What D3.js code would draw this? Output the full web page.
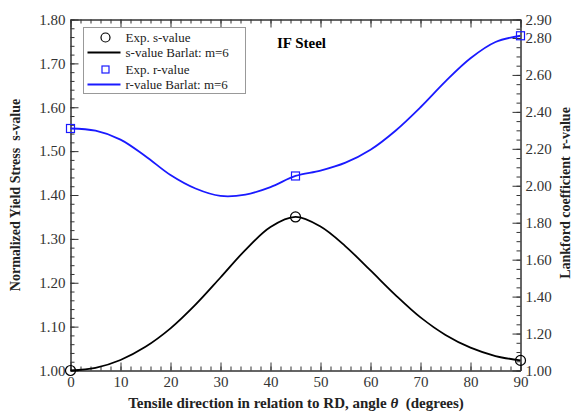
<!DOCTYPE html>
<html>
<head>
<meta charset="utf-8">
<script src="https://cdn.jsdelivr.net/npm/d3@7"></script>
<style>
  body { margin: 0; background: #fff; }
</style>
</head>
<body>
<div id="chart"></div>
<script>
// model curves, every 5 degrees
const angles = [0, 5, 10, 15, 20, 25, 30, 35, 40, 45, 50, 55, 60, 65, 70, 75, 80, 85, 90];
const sModel = [1.000, 1.006, 1.024, 1.054, 1.096, 1.150, 1.212, 1.275, 1.327, 1.350,
                1.328, 1.283, 1.228, 1.172, 1.121, 1.081, 1.052, 1.033, 1.023];
const rModel = [2.310, 2.298, 2.250, 2.160, 2.058, 1.985, 1.945, 1.952, 1.993, 2.053,
                2.082, 2.125, 2.195, 2.298, 2.425, 2.565, 2.690, 2.778, 2.812];

// experimental points
const expAngles = [0, 45, 90];
const sExp = [1.000, 1.350, 1.023];
const rExp = [2.310, 2.053, 2.812];

const xTicks = [0, 10, 20, 30, 40, 50, 60, 70, 80, 90];
const sTicks = [1.00, 1.10, 1.20, 1.30, 1.40, 1.50, 1.60, 1.70, 1.80];
const rTicks = [1.00, 1.20, 1.40, 1.60, 1.80, 2.00, 2.20, 2.40, 2.60, 2.80, 2.90];
const legendLabels = ['Exp. s-value', 's-value Barlat: m=6', 'Exp. r-value', 'r-value Barlat: m=6'];

const w = 578;
const h = 412;
const pLeft = 70.5, pRight = 520.5, pTop = 19.5, pBottom = 370.5;
const blue = '#1a1aff';
const axisColor = '#333';
const serif = '"Liberation Serif", "DejaVu Serif", serif';

const svg = d3.select('#chart')
  .append('svg')
  .attr('width', w)
  .attr('height', h);

const x = d3.scaleLinear().domain([0, 90]).range([pLeft, pRight]);
const yS = d3.scaleLinear().domain([1.0, 1.8]).range([pBottom, pTop]);
const yR = d3.scaleLinear().domain([1.0, 2.9]).range([pBottom, pTop]);

const minor = (a, b, step) => d3.range(Math.round((b - a) / step) + 1).map(i => +(a + i * step).toFixed(3));

const styleAxis = (g) => {
  g.selectAll('path, line').attr('stroke', axisColor);
  g.selectAll('text').attr('fill', axisColor)
    .style('font-family', serif).style('font-size', '15px');
};

// bottom
svg.append('g').attr('transform', `translate(0,${pBottom})`)
  .call(d3.axisBottom(x).tickValues(minor(0, 90, 2)).tickSize(-4).tickSizeOuter(0).tickFormat(''))
  .call(styleAxis);
svg.append('g').attr('transform', `translate(0,${pBottom})`)
  .call(d3.axisBottom(x).tickValues(xTicks).tickSize(-8).tickSizeOuter(0).tickPadding(6).tickFormat(d3.format('d')))
  .call(styleAxis);

// top
svg.append('g').attr('transform', `translate(0,${pTop})`)
  .call(d3.axisTop(x).tickValues(minor(0, 90, 2)).tickSize(-4).tickSizeOuter(0).tickFormat(''))
  .call(styleAxis);
svg.append('g').attr('transform', `translate(0,${pTop})`)
  .call(d3.axisTop(x).tickValues(xTicks).tickSize(-8).tickSizeOuter(0).tickFormat(''))
  .call(styleAxis);

// left (s-value)
svg.append('g').attr('transform', `translate(${pLeft},0)`)
  .call(d3.axisLeft(yS).tickValues(minor(1.0, 1.8, 0.02)).tickSize(-4).tickSizeOuter(0).tickFormat(''))
  .call(styleAxis);
svg.append('g').attr('transform', `translate(${pLeft},0)`)
  .call(d3.axisLeft(yS).tickValues(sTicks).tickSize(-8).tickSizeOuter(0).tickPadding(5).tickFormat(d3.format('.2f')))
  .call(styleAxis);

// right (r-value)
svg.append('g').attr('transform', `translate(${pRight},0)`)
  .call(d3.axisRight(yR).tickValues(minor(1.0, 2.9, 0.05)).tickSize(-4).tickSizeOuter(0).tickFormat(''))
  .call(styleAxis);
svg.append('g').attr('transform', `translate(${pRight},0)`)
  .call(d3.axisRight(yR).tickValues(rTicks).tickSize(-8).tickSizeOuter(0).tickPadding(5).tickFormat(d3.format('.2f')))
  .call(styleAxis);

// curves
const sLine = d3.line().x((d, i) => x(angles[i])).y(d => yS(d)).curve(d3.curveCatmullRom.alpha(0.5));
const rLine = d3.line().x((d, i) => x(angles[i])).y(d => yR(d)).curve(d3.curveCatmullRom.alpha(0.5));

svg.append('path').datum(sModel)
  .attr('d', sLine).attr('fill', 'none').attr('stroke', '#000').attr('stroke-width', 1.8);
svg.append('path').datum(rModel)
  .attr('d', rLine).attr('fill', 'none').attr('stroke', blue).attr('stroke-width', 1.8);

// markers
svg.selectAll('.sexp').data(sExp).enter().append('circle')
  .attr('class', 'sexp')
  .attr('cx', (d, i) => x(expAngles[i]))
  .attr('cy', d => yS(d))
  .attr('r', 5)
  .attr('fill', 'none').attr('stroke', '#000').attr('stroke-width', 1.2);

svg.selectAll('.rexp').data(rExp).enter().append('rect')
  .attr('class', 'rexp')
  .attr('x', (d, i) => x(expAngles[i]) - 4)
  .attr('y', d => yR(d) - 4)
  .attr('width', 8).attr('height', 8)
  .attr('fill', 'none').attr('stroke', blue).attr('stroke-width', 1.2);

// legend
const lg = svg.append('g').attr('transform', 'translate(83.5,27.5)');
lg.append('rect').attr('width', 162).attr('height', 66)
  .attr('fill', '#fff').attr('stroke', '#999').attr('stroke-width', 1);
const rowY = [10, 25, 42, 57];
lg.append('circle').attr('cx', 22).attr('cy', rowY[0]).attr('r', 4.5)
  .attr('fill', 'none').attr('stroke', '#000').attr('stroke-width', 1.2);
lg.append('line').attr('x1', 4).attr('x2', 37).attr('y1', rowY[1]).attr('y2', rowY[1])
  .attr('stroke', '#000').attr('stroke-width', 1.8);
lg.append('rect').attr('x', 18.5).attr('y', rowY[2] - 3.5).attr('width', 7).attr('height', 7)
  .attr('fill', 'none').attr('stroke', blue).attr('stroke-width', 1.2);
lg.append('line').attr('x1', 4).attr('x2', 37).attr('y1', rowY[3]).attr('y2', rowY[3])
  .attr('stroke', blue).attr('stroke-width', 1.8);
lg.selectAll('.lt').data(legendLabels).enter().append('text')
  .attr('class', 'lt')
  .attr('x', 42)
  .attr('y', (d, i) => rowY[i] + 4.5)
  .attr('fill', '#222')
  .style('font-family', serif)
  .style('font-size', '13px')
  .text(d => d);

// title
svg.append('text').attr('x', 277).attr('y', 48)
  .style('font-family', serif)
  .style('font-size', '15px').style('font-weight', 'bold')
  .text('IF Steel');

// axis titles
const xt = svg.append('text').attr('x', 296).attr('y', 408)
  .attr('text-anchor', 'middle')
  .style('font-family', serif)
  .style('font-size', '15px').style('font-weight', 'bold').attr('fill', '#222');
xt.append('tspan').text('Tensile direction in relation to RD, angle ');
xt.append('tspan').style('font-style', 'italic').text('θ');
xt.append('tspan').text('\u00a0 (degrees)');

svg.append('text')
  .attr('transform', 'translate(20,195) rotate(-90)')
  .attr('text-anchor', 'middle')
  .style('font-family', serif)
  .style('font-size', '14px').style('font-weight', 'bold').attr('fill', '#222')
  .text('Normalized Yield Stress\u00a0 s-value');

svg.append('text')
  .attr('transform', 'translate(570,193) rotate(-90)')
  .attr('text-anchor', 'middle')
  .style('font-family', serif)
  .style('font-size', '14px').style('font-weight', 'bold').attr('fill', '#222')
  .text('Lankford coefficient\u00a0 r-value');
</script>
</body>
</html>
